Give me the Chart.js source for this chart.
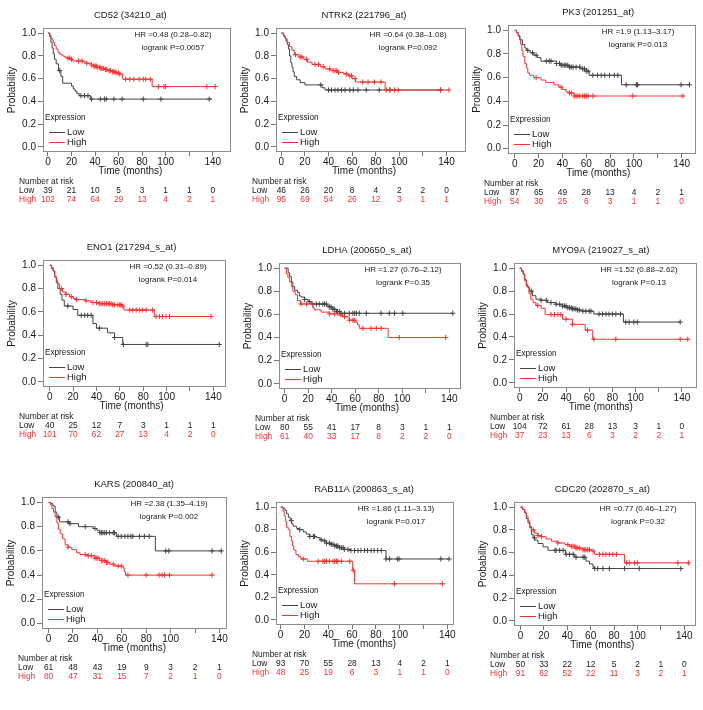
<!DOCTYPE html>
<html>
<head>
<meta charset="utf-8">
<script src="https://cdn.jsdelivr.net/npm/chart.js@4.4.1/dist/chart.umd.min.js"></script>
<style>
  body { margin: 0; background: #fff; width: 703px; height: 710px; overflow: hidden; position: relative; }
  canvas { position: absolute; }
</style>
</head>
<body>
<script>
// axis ticks and the times where the number at risk is given
const xTicks = [0, 20, 40, 60, 80, 100, 120, 140];
const yTicks = [0, 0.2, 0.4, 0.6, 0.8, 1.0];
const riskTimes = [0, 20, 40, 60, 80, 100, 120, 140];

const titles = ['CD52 (34210_at)', 'NTRK2 (221796_at)', 'PK3 (201251_at)',
  'ENO1 (217294_s_at)', 'LDHA (200650_s_at)', 'MYO9A (219027_s_at)',
  'KARS (200840_at)', 'RAB11A (200863_s_at)', 'CDC20 (202870_s_at)'];
const hrTexts = ['HR =0.48 (0.28\u20130.82)', 'HR =0.64 (0.38\u20131.08)', 'HR =1.9 (1.13\u20133.17)',
  'HR =0.52 (0.31\u20130.89)', 'HR =1.27 (0.76\u20132.12)', 'HR =1.52 (0.88\u20132.62)',
  'HR =2.38 (1.35\u20134.19)', 'HR =1.86 (1.11\u20133.13)', 'HR =0.77 (0.46\u20131.27)'];
const pTexts = ['logrank P=0.0057', 'logrank P=0.092', 'logrank P=0.013',
  'logrank P=0.014', 'logrank P=0.35', 'logrank P=0.13',
  'logrank P=0.002', 'logrank P=0.017', 'logrank P=0.32'];

// survival steps [time, probability] and censor times
const cd52Low = [[0,1],[1.5,0.97],[2.5,0.92],[3.5,0.87],[4.5,0.82],[5.5,0.77],[7,0.73],[9,0.67],[11,0.62],[12.5,0.56],[20,0.535],[21.5,0.51],[23,0.49],[24.5,0.47],[26.5,0.45],[36,0.42],[139,0.42]];
const cd52LowCens = [10, 28, 31, 34, 37, 44.5, 48, 49.5, 56, 63, 81, 96, 137];
const cd52High = [[0,1],[1.5,0.98],[2.5,0.96],[3.5,0.94],[4.5,0.92],[5.5,0.89],[7,0.86],[8.5,0.83],[10,0.815],[12,0.8],[14,0.79],[16,0.78],[19,0.77],[21,0.755],[30,0.745],[33,0.735],[37,0.72],[39,0.71],[42,0.7],[45,0.69],[48,0.68],[51,0.67],[55,0.66],[58,0.65],[61,0.64],[63.5,0.595],[88.5,0.53],[143,0.53]];
const cd52HighCens = [17, 18.5, 20, 26, 29, 33, 37, 39, 40, 41, 42, 44, 45, 46, 47, 49, 50, 52, 53, 55, 56, 57, 58, 60, 61, 66, 69.5, 73, 77.5, 81, 83, 87, 94, 98.5, 100, 135, 142];
const cd52RiskLow = [39, 21, 10, 5, 3, 1, 1, 0];
const cd52RiskHigh = [102, 74, 64, 29, 13, 4, 2, 1];

const ntrk2Low = [[0,1],[2,0.98],[3,0.96],[4,0.93],[5,0.9],[6,0.86],[7,0.8],[8,0.74],[9,0.7],[10,0.66],[11,0.62],[13,0.59],[16,0.565],[20,0.545],[34.5,0.52],[37,0.5],[137,0.5]];
const ntrk2LowCens = [33.5, 40, 42.5, 45.5, 48, 51, 54, 58, 61, 65, 72, 83, 92, 135];
const ntrk2High = [[0,1],[2,0.97],[3.5,0.95],[5,0.92],[7,0.88],[9,0.85],[11,0.81],[15,0.79],[19,0.77],[22,0.745],[26,0.725],[33,0.705],[37,0.685],[42,0.67],[48,0.655],[53,0.64],[57,0.625],[60,0.6],[63,0.57],[88,0.5],[142,0.5]];
const ntrk2HighCens = [12, 16, 17.5, 21.5, 28.5, 31.5, 35.5, 41, 44, 45.5, 47, 48.5, 55, 58, 59.5, 62.5, 69, 73.5, 79, 84.5, 89, 92, 96, 99, 135, 142];
const ntrk2RiskLow = [46, 26, 20, 8, 4, 2, 2, 0];
const ntrk2RiskHigh = [95, 69, 54, 26, 12, 3, 1, 1];

const pk3Low = [[0,1],[1.5,0.98],[3,0.95],[4.5,0.92],[6.5,0.88],[8.5,0.85],[10,0.83],[13,0.81],[16,0.79],[19,0.77],[22,0.74],[35,0.72],[38.5,0.705],[45,0.69],[55,0.675],[60,0.655],[62.5,0.62],[89.5,0.54],[147,0.54]];
const pk3LowCens = [11, 15, 18, 26.5, 29, 30.5, 35, 37.5, 39, 40.5, 42, 43, 44.5, 46, 47.5, 49, 51.5, 54.5, 57, 58.5, 60, 61.5, 65.5, 69.5, 72.5, 75.5, 79.5, 83.5, 86.5, 93.5, 102, 103, 139.5, 146.5];
const pk3High = [[0,1],[1.5,0.98],[3,0.96],[4,0.92],[5,0.88],[6,0.83],[7,0.78],[8.5,0.72],[10,0.68],[11,0.64],[12.5,0.62],[16,0.6],[22,0.58],[26,0.56],[33,0.54],[37,0.52],[40,0.5],[43,0.48],[45.5,0.47],[50,0.445],[141,0.445]];
const pk3HighCens = [18, 39, 46, 47.5, 50, 51.5, 53, 54.5, 57, 58.5, 60, 61.5, 65.5, 99, 141];
const pk3RiskLow = [87, 65, 49, 28, 13, 4, 2, 1];
const pk3RiskHigh = [54, 30, 25, 6, 3, 1, 1, 0];

const eno1Low = [[0,1],[1.5,0.97],[3,0.95],[4.3,0.9],[5.7,0.85],[7,0.8],[9,0.75],[10.5,0.7],[12.5,0.65],[20,0.62],[24,0.57],[37,0.5],[40,0.46],[49.5,0.42],[55.5,0.38],[62.5,0.32],[145,0.32]];
const eno1LowCens = [15.5, 27, 30, 32.5, 35.5, 42.5, 55.5, 63, 82.5, 84, 145];
const eno1High = [[0,1],[1.5,0.98],[3,0.95],[4.3,0.9],[5.7,0.87],[7,0.84],[8.5,0.8],[11,0.77],[14,0.75],[17,0.73],[20,0.715],[23,0.705],[31,0.695],[35.5,0.68],[42.5,0.67],[54,0.66],[62.5,0.65],[63.5,0.615],[89.5,0.56],[139.5,0.56]];
const eno1HighCens = [10, 14, 18.5, 23, 31, 37, 40, 42.5, 44, 45.5, 47, 48.5, 50, 51, 52.5, 54, 55.5, 58.5, 60, 61, 62.5, 68.5, 71, 74, 77, 79.5, 82.5, 88, 91, 94, 96.5, 99.5, 102.5, 138];
const eno1RiskLow = [40, 25, 12, 7, 3, 1, 1, 1];
const eno1RiskHigh = [101, 70, 62, 27, 13, 4, 2, 0];

const ldhaLow = [[0,1],[3,0.96],[4.2,0.93],[5.7,0.88],[7,0.84],[8.5,0.81],[11,0.79],[12.5,0.76],[14,0.75],[17,0.73],[20,0.71],[22.5,0.69],[36,0.675],[38,0.665],[41,0.645],[44,0.625],[47,0.61],[143,0.61]];
const ldhaLowCens = [17, 21, 24, 27, 29.5, 32.5, 34, 35.5, 38, 39.5, 41, 42.5, 44, 45, 46.5, 48, 51, 55, 58, 59.5, 61, 63.5, 69.5, 82, 89, 93.5, 100.5, 143];
const ldhaHigh = [[0,1],[1.5,0.95],[2.8,0.92],[4.2,0.88],[5.7,0.84],[7,0.8],[9,0.77],[11,0.72],[13.5,0.69],[24,0.655],[25.5,0.64],[31,0.62],[38,0.605],[45,0.595],[49.5,0.58],[55,0.55],[60.5,0.53],[62,0.51],[63.5,0.48],[88,0.4],[138.5,0.4]];
const ldhaHighCens = [14, 18.5, 38, 42.5, 48, 51, 55, 58, 59.5, 66.5, 73.5, 78, 82, 97.5, 137];
const ldhaRiskLow = [80, 55, 41, 17, 8, 3, 1, 1];
const ldhaRiskHigh = [61, 40, 33, 17, 8, 2, 2, 0];

const myo9aLow = [[0,1],[1.5,0.98],[3,0.95],[4.3,0.9],[5.7,0.86],[7,0.83],[8.5,0.8],[11,0.76],[14,0.73],[18.5,0.72],[24,0.7],[31,0.685],[37,0.67],[41,0.655],[45.5,0.645],[50,0.635],[54,0.625],[64,0.6],[89.5,0.53],[138.5,0.53]];
const myo9aLowCens = [10, 18.5, 23, 27, 31.5, 34.5, 37, 38.5, 40, 41.5, 43, 44.5, 45.5, 47, 48.5, 50, 51.5, 54.5, 57, 60, 61.5, 68.5, 71.5, 74.5, 77, 80, 83, 87, 91.5, 94.5, 98.5, 101.5, 138.5];
const myo9aHigh = [[0,1],[1.5,0.97],[3,0.945],[4.3,0.89],[5.7,0.84],[8,0.78],[9.5,0.73],[11.5,0.7],[14,0.675],[18.5,0.65],[22,0.595],[37,0.555],[45.5,0.51],[56.5,0.46],[63,0.38],[146,0.38]];
const myo9aHighCens = [15.5, 27, 30, 33, 35.5, 40, 45.5, 58.5, 64, 83, 138.5, 145];
const myo9aRiskLow = [104, 72, 61, 28, 13, 3, 1, 0];
const myo9aRiskHigh = [37, 23, 13, 6, 3, 2, 2, 1];

const karsLow = [[0,1],[1.5,0.99],[3.5,0.97],[5.4,0.92],[6.8,0.88],[9,0.84],[17.5,0.825],[24.5,0.8],[36.5,0.785],[39.5,0.77],[42,0.75],[55.5,0.72],[87.5,0.6],[142,0.6]];
const karsLowCens = [8, 16, 17.5, 30, 38, 42, 43.5, 44.5, 46, 47.5, 50, 53, 54, 57, 59.5, 62.5, 65, 67.5, 69, 74.5, 78.5, 82.5, 96, 98.5, 134, 141.5];
const karsHigh = [[0,1],[1.5,0.98],[2.7,0.95],[4,0.92],[5.4,0.88],[6.8,0.83],[8,0.78],[9.5,0.74],[11.5,0.7],[13.5,0.65],[16,0.63],[19,0.61],[23,0.585],[25.7,0.57],[31,0.56],[38,0.54],[42,0.52],[47,0.505],[50,0.49],[54,0.475],[61,0.46],[62,0.43],[63,0.4],[134,0.4]];
const karsHighCens = [16, 30, 32.5, 35, 38, 39.5, 40.5, 43.5, 44.5, 46, 47.5, 48.5, 53, 57, 59.5, 65, 80, 90.5, 93, 95, 99, 134];
const karsRiskLow = [61, 48, 43, 19, 9, 3, 2, 1];
const karsRiskHigh = [80, 47, 31, 15, 7, 2, 1, 0];

const rab11aLow = [[0,1],[2,0.99],[3.5,0.97],[5,0.94],[6.5,0.91],[8,0.88],[9.2,0.85],[10.5,0.83],[13.5,0.81],[16,0.8],[19,0.78],[21.5,0.76],[24.5,0.74],[30,0.73],[33,0.71],[35.5,0.7],[38.5,0.68],[42.5,0.67],[45.5,0.655],[49.5,0.64],[53.5,0.625],[59,0.615],[88.5,0.54],[141.5,0.54]];
const rab11aLowCens = [9, 16, 24.5, 27.5, 28.5, 34, 37, 38.5, 41, 42.5, 44, 45.5, 47, 48, 49.5, 51, 52.5, 53.5, 56.5, 59, 62, 65, 67.5, 70.5, 73, 76, 78.5, 81.5, 84.5, 88.5, 91.5, 98, 99.5, 134.5, 141.5];
const rab11aHigh = [[0,1],[2,0.96],[3,0.92],[4.2,0.87],[5,0.82],[6.4,0.8],[7.8,0.74],[9.2,0.7],[10,0.66],[11,0.62],[12.8,0.58],[14.8,0.56],[17,0.54],[22.5,0.52],[60.5,0.44],[62,0.32],[136,0.32]];
const rab11aHighCens = [19, 31.5, 35.5, 37, 38.5, 41, 44, 45.5, 47, 48, 51, 58, 61, 95.5, 136];
const rab11aRiskLow = [93, 70, 55, 28, 13, 4, 2, 1];
const rab11aRiskHigh = [48, 25, 19, 6, 3, 1, 1, 0];

const cdc20Low = [[0,1],[1.7,0.98],[3.7,0.95],[5,0.9],[6.5,0.86],[8,0.82],[9.4,0.76],[10.8,0.73],[12.2,0.71],[15,0.68],[19.3,0.65],[23.6,0.62],[38.5,0.585],[46.3,0.56],[56,0.525],[59,0.5],[62,0.47],[63.3,0.46],[137,0.46]];
const cdc20LowCens = [12, 29.5, 30.5, 33.5, 36.5, 39, 42, 45, 47.5, 53.5, 55, 63.5, 66, 70.5, 76, 89, 101.5, 137];
const cdc20High = [[0,1],[1.7,0.98],[3.7,0.95],[5,0.92],[6.5,0.88],[8,0.83],[9.4,0.8],[12,0.77],[15,0.75],[18,0.74],[22,0.72],[26.5,0.7],[32,0.685],[38,0.67],[42,0.655],[47.5,0.64],[53.5,0.625],[60.5,0.615],[63.3,0.585],[89,0.51],[144.5,0.51]];
const cdc20HighCens = [11, 15, 18, 32, 40.5, 43.5, 45, 46.5, 47.5, 49, 50.5, 53.5, 55, 56, 57.5, 59, 62, 67.5, 70.5, 73, 76, 79, 82, 90.5, 93, 97.5, 100, 134.5, 143.5];
const cdc20RiskLow = [50, 33, 22, 12, 5, 2, 1, 0];
const cdc20RiskHigh = [91, 62, 52, 22, 11, 3, 2, 1];

const lowCurves = [cd52Low, ntrk2Low, pk3Low, eno1Low, ldhaLow, myo9aLow, karsLow, rab11aLow, cdc20Low];
const lowCens = [cd52LowCens, ntrk2LowCens, pk3LowCens, eno1LowCens, ldhaLowCens, myo9aLowCens, karsLowCens, rab11aLowCens, cdc20LowCens];
const highCurves = [cd52High, ntrk2High, pk3High, eno1High, ldhaHigh, myo9aHigh, karsHigh, rab11aHigh, cdc20High];
const highCens = [cd52HighCens, ntrk2HighCens, pk3HighCens, eno1HighCens, ldhaHighCens, myo9aHighCens, karsHighCens, rab11aHighCens, cdc20HighCens];
const riskLow = [cd52RiskLow, ntrk2RiskLow, pk3RiskLow, eno1RiskLow, ldhaRiskLow, myo9aRiskLow, karsRiskLow, rab11aRiskLow, cdc20RiskLow];
const riskHigh = [cd52RiskHigh, ntrk2RiskHigh, pk3RiskHigh, eno1RiskHigh, ldhaRiskHigh, myo9aRiskHigh, karsRiskHigh, rab11aRiskHigh, cdc20RiskHigh];

// plot box of each panel on the page [left, top, right, bottom] and x range
const boxes = [[43,28,232,180],[276,28,467,180],[508,25,697,182],
  [43,260,227,415],[279,263,462,417],[514,263,698,416],
  [42,497,228,657],[276,502,455,653],[514,502,697,654]];
const xRanges = [[-4.2,155.5],[-4.5,156.5],[-5.6,152],
  [-5.7,150.8],[-4.8,150],[-4.9,153],
  [-5.4,146.2],[-3.9,145.6],[-5.5,150]];

const FONT = '"Liberation Sans", Arial, Helvetica, sans-serif';
const GREY = '#444444';
const RED = '#ff3030';
const TXT = '#1a1a1a';

Chart.defaults.font.family = FONT;
Chart.defaults.color = TXT;

function stepAt(curve, t) {
  let v = curve[0][1];
  for (const [x, s] of curve) { if (x <= t) v = s; }
  return v;
}

const kmPlugin = {
  id: 'km',
  afterDraw(chart) {
    const o = chart.options.plugins.km;
    const ctx = chart.ctx;
    const a = chart.chartArea;
    const xs = chart.scales.x;
    ctx.save();
    // box
    ctx.strokeStyle = '#8c8c8c';
    ctx.lineWidth = 1;
    ctx.strokeRect(Math.round(a.left) + 0.5, Math.round(a.top) + 0.5,
      Math.round(a.right - a.left) - 1, Math.round(a.bottom - a.top) - 1);

    const mid = xs.getPixelForValue(70);
    ctx.fillStyle = TXT;
    ctx.textBaseline = 'middle';
    // title
    ctx.textAlign = 'center';
    ctx.font = '9.5px ' + FONT;
    ctx.fillText(o.title, mid, a.top - 13);
    // HR / logrank
    ctx.font = '8px ' + FONT;
    ctx.fillText(o.hr, a.right - 58, a.top + 7);
    ctx.fillText(o.p, a.right - 58, a.top + 20);
    // x title
    ctx.font = '10px ' + FONT;
    ctx.fillText('Time (months)', mid, a.bottom + 19.5);
    // y title
    ctx.save();
    ctx.translate(a.left - 31, (a.top + a.bottom) / 2);
    ctx.rotate(-Math.PI / 2);
    ctx.fillText('Probability', 0, 0);
    ctx.restore();

    // legend
    ctx.textAlign = 'left';
    ctx.font = '8.2px ' + FONT;
    ctx.fillText('Expression', a.left + 2, a.bottom - 34);
    ctx.lineWidth = 1;
    ctx.strokeStyle = GREY;
    ctx.beginPath();
    ctx.moveTo(a.left + 6, Math.round(a.bottom - 20) + 0.5);
    ctx.lineTo(a.left + 22, Math.round(a.bottom - 20) + 0.5);
    ctx.stroke();
    ctx.strokeStyle = RED;
    ctx.beginPath();
    ctx.moveTo(a.left + 6, Math.round(a.bottom - 10) + 0.5);
    ctx.lineTo(a.left + 22, Math.round(a.bottom - 10) + 0.5);
    ctx.stroke();
    ctx.font = '9.5px ' + FONT;
    ctx.fillText('Low', a.left + 24, a.bottom - 20);
    ctx.fillText('High', a.left + 24, a.bottom - 10);

    // number at risk table
    ctx.font = '8.4px ' + FONT;
    const lx = a.left - 24;
    ctx.fillText('Number at risk', lx, a.bottom + 30);
    ctx.fillText('Low', lx, a.bottom + 38.7);
    ctx.fillStyle = RED;
    ctx.fillText('High', lx, a.bottom + 47.7);
    ctx.textAlign = 'center';
    riskTimes.forEach((t, i) => {
      const px = xs.getPixelForValue(t);
      ctx.fillStyle = TXT;
      ctx.fillText(String(o.riskLow[i]), px, a.bottom + 38.7);
      ctx.fillStyle = RED;
      ctx.fillText(String(o.riskHigh[i]), px, a.bottom + 47.7);
    });
    ctx.restore();
  }
};

titles.forEach((title, i) => {
  const b = boxes[i];
  const cv = document.createElement('canvas');
  const w = b[2] - b[0] + 47;
  const h = b[3] - b[1] + 84;
  cv.width = w;
  cv.height = h;
  cv.style.left = (b[0] - 43) + 'px';
  cv.style.top = (b[1] - 28) + 'px';
  document.body.appendChild(cv);

  const low = lowCurves[i], high = highCurves[i];
  new Chart(cv, {
    data: {
      datasets: [
        {
          type: 'scatter',
          data: highCens[i].map(t => ({ x: t, y: stepAt(high, t) })),
          pointStyle: 'cross', pointRadius: 2.6, borderColor: RED, borderWidth: 1
        },
        {
          type: 'line',
          data: high.map(d => ({ x: d[0], y: d[1] })),
          stepped: 'before', borderColor: RED, borderWidth: 1, pointRadius: 0, fill: false
        },
        {
          type: 'scatter',
          data: lowCens[i].map(t => ({ x: t, y: stepAt(low, t) })),
          pointStyle: 'cross', pointRadius: 2.6, borderColor: GREY, borderWidth: 1
        },
        {
          type: 'line',
          data: low.map(d => ({ x: d[0], y: d[1] })),
          stepped: 'before', borderColor: GREY, borderWidth: 1, pointRadius: 0, fill: false
        }
      ]
    },
    options: {
      responsive: false,
      animation: false,
      devicePixelRatio: 1,
      layout: { padding: { top: 28, right: 4, bottom: 68, left: 0 } },
      plugins: {
        legend: { display: false },
        title: { display: false },
        tooltip: { enabled: false },
        km: { title: title, hr: hrTexts[i], p: pTexts[i], riskLow: riskLow[i], riskHigh: riskHigh[i] }
      },
      scales: {
        x: {
          type: 'linear',
          min: xRanges[i][0], max: xRanges[i][1],
          afterBuildTicks: s => { s.ticks = xTicks.map(v => ({ value: v })); },
          afterFit: s => { s.height = 16; s.paddingLeft = 0; s.paddingRight = 0; },
          ticks: { callback: v => (v === 120 ? '' : v), autoSkip: false, maxRotation: 0, padding: 0, font: { size: 10 }, color: TXT },
          grid: { drawOnChartArea: false, drawTicks: true, tickLength: 4, color: '#777' },
          border: { display: false }
        },
        y: {
          type: 'linear',
          min: -0.045, max: 1.045,
          afterBuildTicks: s => { s.ticks = yTicks.map(v => ({ value: v })); },
          afterFit: s => { s.width = 43; },
          ticks: { callback: v => v.toFixed(1), padding: 2, font: { size: 10 }, color: TXT },
          grid: { drawOnChartArea: false, drawTicks: true, tickLength: 5, color: '#777' },
          border: { display: false }
        }
      }
    },
    plugins: [kmPlugin]
  });
});
</script>
</body>
</html>
